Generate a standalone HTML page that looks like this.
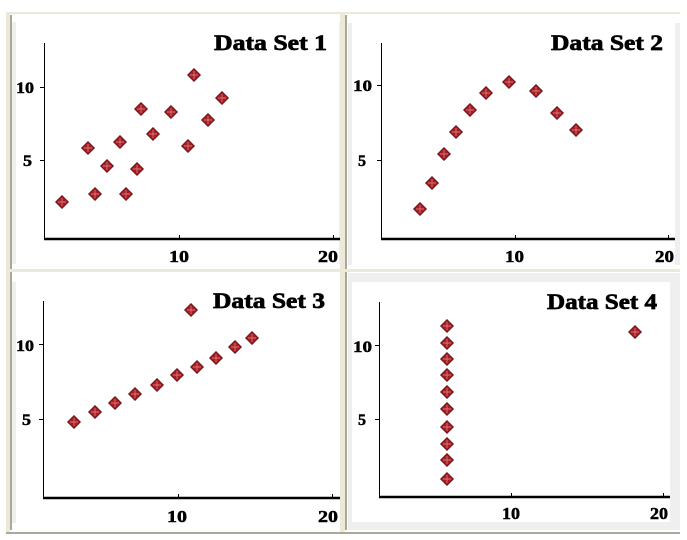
<!DOCTYPE html>
<html><head><meta charset="utf-8"><style>
html,body{margin:0;padding:0;background:#fff;}
svg{display:block;}
text{font-family:"Liberation Serif",serif;font-weight:bold;fill:#000;stroke:#000;stroke-width:0.5;}
text.t{stroke-width:0.7;}
</style></head><body>
<svg width="687" height="540" viewBox="0 0 687 540" xmlns="http://www.w3.org/2000/svg">
<defs>
<g id="m">
<path d="M0,-7 L7,0 L0,7 L-7,0 Z" fill="#5e0c10"/>
<path d="M0,-6 L6,0 L0,6 L-6,0 Z" fill="#a41c24"/>
<path d="M0,-4 V4 M-4,0 H4" stroke="#d97878" stroke-width="0.9"/>
</g>
</defs>
<rect width="687" height="540" fill="#fff"/>
<!-- frames -->
<rect x="6" y="12" width="674" height="2" fill="#ece9d8"/>
<rect x="6" y="12" width="4" height="520" fill="#ece9d8"/>
<rect x="10" y="15" width="2" height="515" fill="#aca899"/>
<rect x="12" y="22" width="4" height="242" fill="#efefef"/>
<rect x="339" y="22" width="3" height="242" fill="#efefef"/>
<rect x="340" y="12" width="5" height="520" fill="#ece9d8"/>
<rect x="345" y="15" width="2" height="515" fill="#aca899"/>
<rect x="348" y="23" width="4" height="242" fill="#efefef"/>
<rect x="675" y="23" width="5" height="242" fill="#efefef"/>
<rect x="6" y="269" width="674" height="3" fill="#ece9d8"/>
<rect x="12" y="282" width="4" height="241" fill="#efefef"/>
<rect x="348" y="273" width="332" height="257" fill="#efefef"/>
<rect x="352" y="282" width="318" height="240" fill="#fff"/>
<rect x="6" y="532" width="674" height="2" fill="#aca899"/>

<!-- Panel 1 -->
<g>
<line x1="44.5" y1="43" x2="44.5" y2="239" stroke="#000" stroke-width="1"/>
<line x1="44" y1="239" x2="340" y2="239" stroke="#000" stroke-width="2.5"/>
<line x1="40" y1="87.5" x2="44" y2="87.5" stroke="#000"/>
<line x1="40" y1="160.5" x2="44" y2="160.5" stroke="#000"/>
<line x1="179.5" y1="235" x2="179.5" y2="239" stroke="#000"/>
<line x1="333.5" y1="235" x2="333.5" y2="239" stroke="#000"/>
<text class="t" x="214" y="50" font-size="22" textLength="113" lengthAdjust="spacingAndGlyphs">Data Set 1</text>
<text x="16" y="93" font-size="16" textLength="18" lengthAdjust="spacingAndGlyphs">10</text>
<text x="23" y="166" font-size="16" textLength="9" lengthAdjust="spacingAndGlyphs">5</text>
<text x="169" y="262" font-size="17" textLength="20" lengthAdjust="spacingAndGlyphs">10</text>
<text x="318" y="262" font-size="17" textLength="20" lengthAdjust="spacingAndGlyphs">20</text>
<use href="#m" x="62" y="202"/><use href="#m" x="88" y="148"/><use href="#m" x="95" y="194"/>
<use href="#m" x="107" y="166"/><use href="#m" x="120" y="142"/><use href="#m" x="126" y="194"/>
<use href="#m" x="137" y="169"/><use href="#m" x="141" y="109"/><use href="#m" x="153" y="134"/>
<use href="#m" x="171" y="112"/><use href="#m" x="188" y="146"/><use href="#m" x="194" y="75"/>
<use href="#m" x="208" y="120"/><use href="#m" x="222" y="98"/>
</g>

<!-- Panel 2 -->
<g>
<line x1="381.5" y1="43" x2="381.5" y2="239" stroke="#000" stroke-width="1"/>
<line x1="381" y1="239" x2="675" y2="239" stroke="#000" stroke-width="2.5"/>
<line x1="377" y1="85.5" x2="381" y2="85.5" stroke="#000"/>
<line x1="377" y1="160.5" x2="381" y2="160.5" stroke="#000"/>
<line x1="515.5" y1="235" x2="515.5" y2="239" stroke="#000"/>
<line x1="668.5" y1="235" x2="668.5" y2="239" stroke="#000"/>
<text class="t" x="551" y="50" font-size="22" textLength="112" lengthAdjust="spacingAndGlyphs">Data Set 2</text>
<text x="353" y="91" font-size="16" textLength="19" lengthAdjust="spacingAndGlyphs">10</text>
<text x="358" y="166" font-size="16" textLength="8" lengthAdjust="spacingAndGlyphs">5</text>
<text x="505" y="262" font-size="17" textLength="19" lengthAdjust="spacingAndGlyphs">10</text>
<text x="655" y="262" font-size="17" textLength="19" lengthAdjust="spacingAndGlyphs">20</text>
<use href="#m" x="420" y="209"/><use href="#m" x="432" y="183"/><use href="#m" x="444" y="154"/>
<use href="#m" x="456" y="132"/><use href="#m" x="470" y="110"/><use href="#m" x="486" y="93"/>
<use href="#m" x="509" y="82"/><use href="#m" x="536" y="91"/><use href="#m" x="557" y="113"/>
<use href="#m" x="576" y="130"/>
</g>

<!-- Panel 3 -->
<g>
<line x1="43.5" y1="301" x2="43.5" y2="498" stroke="#000" stroke-width="1"/>
<line x1="43" y1="498" x2="340" y2="498" stroke="#000" stroke-width="2.5"/>
<line x1="39" y1="344.5" x2="43" y2="344.5" stroke="#000"/>
<line x1="39" y1="419.5" x2="43" y2="419.5" stroke="#000"/>
<line x1="178.5" y1="494" x2="178.5" y2="498" stroke="#000"/>
<line x1="332.5" y1="494" x2="332.5" y2="498" stroke="#000"/>
<text class="t" x="213" y="308" font-size="22" textLength="112" lengthAdjust="spacingAndGlyphs">Data Set 3</text>
<text x="16" y="351" font-size="16" textLength="18" lengthAdjust="spacingAndGlyphs">10</text>
<text x="22" y="425" font-size="16" textLength="9" lengthAdjust="spacingAndGlyphs">5</text>
<text x="167" y="522" font-size="17" textLength="20" lengthAdjust="spacingAndGlyphs">10</text>
<text x="318" y="522" font-size="17" textLength="20" lengthAdjust="spacingAndGlyphs">20</text>
<use href="#m" x="74" y="422"/><use href="#m" x="95" y="412"/><use href="#m" x="115" y="403"/>
<use href="#m" x="135" y="394"/><use href="#m" x="157" y="385"/><use href="#m" x="177" y="375"/>
<use href="#m" x="191" y="310"/><use href="#m" x="197" y="367"/><use href="#m" x="216" y="358"/>
<use href="#m" x="235" y="347"/><use href="#m" x="252" y="338"/>
</g>

<!-- Panel 4 -->
<g>
<line x1="379.5" y1="302" x2="379.5" y2="497" stroke="#000" stroke-width="1"/>
<line x1="379" y1="497" x2="670" y2="497" stroke="#000" stroke-width="2.5"/>
<line x1="375" y1="345.5" x2="379" y2="345.5" stroke="#000"/>
<line x1="375" y1="419.5" x2="379" y2="419.5" stroke="#000"/>
<line x1="511.5" y1="493" x2="511.5" y2="497" stroke="#000"/>
<line x1="663.5" y1="493" x2="663.5" y2="497" stroke="#000"/>
<text class="t" x="547" y="309" font-size="22" textLength="110" lengthAdjust="spacingAndGlyphs">Data Set 4</text>
<text x="353" y="352" font-size="16" textLength="19" lengthAdjust="spacingAndGlyphs">10</text>
<text x="358" y="425" font-size="16" textLength="8" lengthAdjust="spacingAndGlyphs">5</text>
<text x="502" y="519" font-size="17" textLength="18" lengthAdjust="spacingAndGlyphs">10</text>
<text x="650" y="519" font-size="17" textLength="18" lengthAdjust="spacingAndGlyphs">20</text>
<use href="#m" x="447" y="326"/><use href="#m" x="447" y="343"/><use href="#m" x="447" y="359"/>
<use href="#m" x="447" y="375"/><use href="#m" x="447" y="392"/><use href="#m" x="447" y="409"/>
<use href="#m" x="447" y="427"/><use href="#m" x="447" y="444"/><use href="#m" x="447" y="460"/>
<use href="#m" x="447" y="479"/><use href="#m" x="635" y="332"/>
</g>
</svg>
</body></html>
